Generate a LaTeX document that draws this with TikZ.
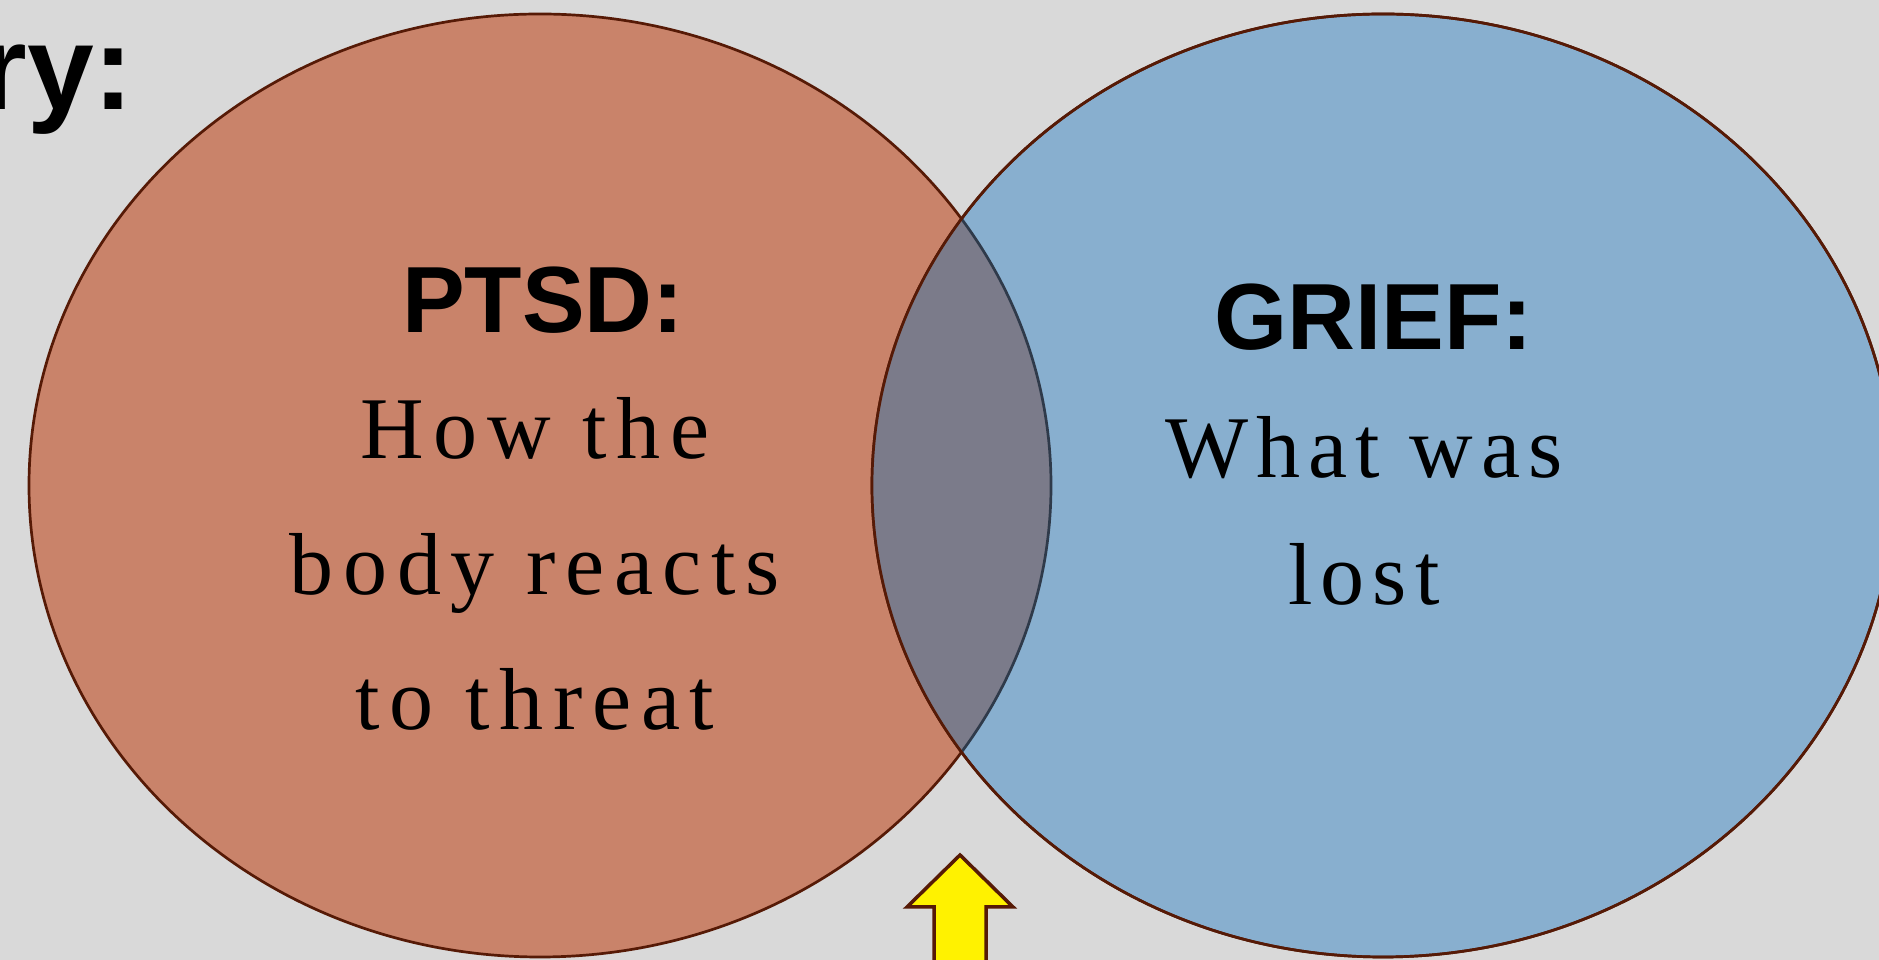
\documentclass[tikz,border=0pt]{standalone}
\usepackage{fontspec}
\setmainfont{Liberation Serif}
\newfontfamily\headfont{Liberation Sans}

\definecolor{slidebg}{HTML}{D9D9D9}
\definecolor{ptsdfill}{HTML}{C9836A}
\definecolor{grieffill}{HTML}{88AFCF}
\definecolor{overlapfill}{HTML}{7B7B8A}
\definecolor{rim}{HTML}{561A06}
\definecolor{rimshade}{HTML}{2F3A4A}

\tikzset{
  heading/.style={anchor=base, inner sep=0pt, font=\headfont\bfseries\fontsize{94}{94}\selectfont},
  bodyline/.style={anchor=base, inner sep=0pt, font=\fontsize{88}{88}\selectfont\addfontfeatures{LetterSpace=#1}},
  bodyline/.default=11,
  circle rim/.style={rim, line width=2.7pt},
}

\begin{document}
\begin{tikzpicture}[x=1pt,y=1pt]
      \useasboundingbox (0,0) rectangle (1879,960);
      \fill [slidebg] (0,0) rectangle (1879,960);

      % the two sets
      \draw [circle rim, fill=ptsdfill]  (540,474.5)  ellipse [x radius=511, y radius=471.5];
      \draw [circle rim, fill=grieffill] (1383,474.5) ellipse [x radius=511, y radius=471.5];
      \begin{scope}
        \clip (1383,474.5) ellipse [x radius=511, y radius=471.5];
        \draw [rimshade, line width=2.7pt, fill=overlapfill] (540,474.5) ellipse [x radius=511, y radius=471.5];
      \end{scope}
      \draw [circle rim] (1383,474.5) ellipse [x radius=511, y radius=471.5];

      \node (title) [anchor=base east, inner sep=0pt, font=\headfont\bfseries\fontsize{120}{120}\selectfont] at (134,850) {ry:};

      \node (ptsd)   [heading]  at (543,627)   {PTSD:};
      \node (how)    [bodyline] at (535,501)   {How the};
      \node (body)   [bodyline] at (535,365.4) {body reacts};
      \node (threat) [bodyline] at (535,230)   {to threat};

      \node (grief)  [heading]     at (1373.5,610) {GRIEF:};
      \node (what)   [bodyline=9]  at (1364,482)   {What was};
      \node (lost)   [bodyline=9]  at (1364,355)   {lost};

      % pointer into the overlap
      \draw [circle rim, line width=3.5pt, fill=yellow, line join=miter]
        (960,105) -- (1013,53) -- (986,53) -- (986,-10) -- (934,-10) -- (934,53) -- (907,53) -- cycle;
    \end{tikzpicture}
\end{document}
